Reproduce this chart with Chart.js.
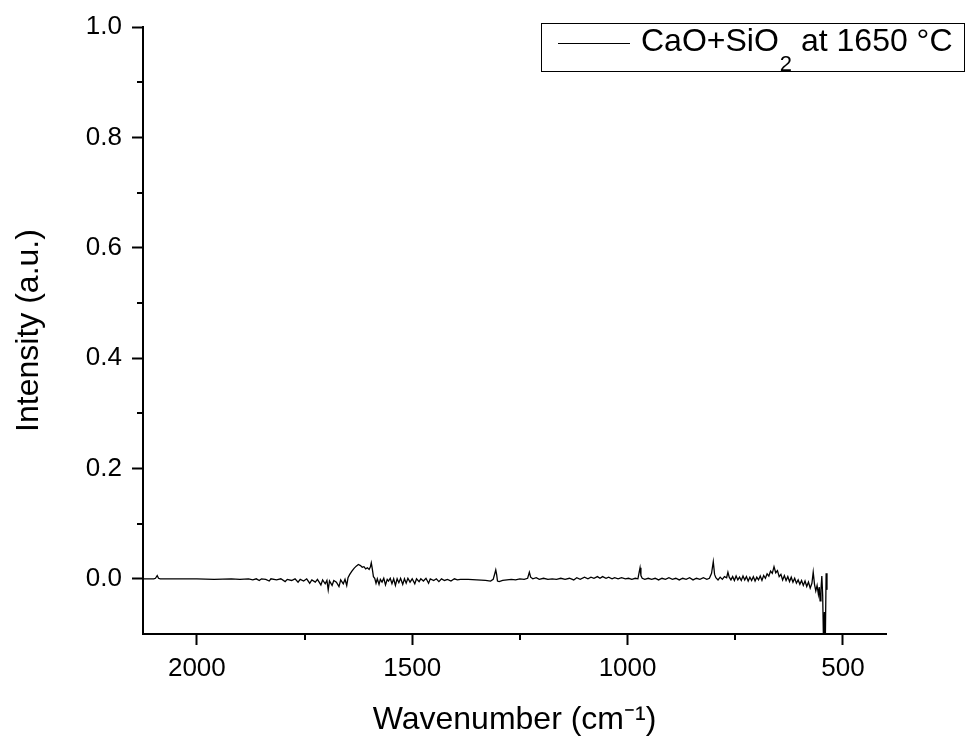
<!DOCTYPE html>
<html>
<head>
<meta charset="utf-8">
<script src="https://cdn.jsdelivr.net/npm/chart.js@4.4.1/dist/chart.umd.min.js"></script>
<style>
  html, body { margin: 0; padding: 0; background: #fff; }
  canvas { display: block; }
</style>
</head>
<body>
<canvas id="spectrum" width="966" height="740"></canvas>
<script>
// spectrum (wavenumber cm-1, intensity a.u.)
const wavenumbers = [
  2125, 2100, 2096, 2092, 2089, 2085, 2040, 2000, 1960, 1920, 1900, 1880, 1870, 1862,
  1855, 1850, 1840, 1832, 1828, 1815, 1805, 1795, 1790, 1780, 1772, 1765, 1760, 1752,
  1745, 1738, 1733, 1725, 1720, 1712, 1708, 1702, 1698, 1695, 1692, 1686, 1682, 1676,
  1670, 1666, 1660, 1656, 1652, 1649, 1645, 1640, 1635, 1630, 1625, 1620, 1616, 1612,
  1608, 1604, 1600, 1597, 1595, 1593, 1590, 1587, 1584, 1581, 1577, 1574, 1570, 1566,
  1562, 1558, 1555, 1551, 1547, 1543, 1539, 1535, 1531, 1527, 1522, 1518, 1514, 1510,
  1505, 1500, 1494, 1490, 1484, 1480, 1474, 1468, 1462, 1458, 1450, 1444, 1438, 1432,
  1425, 1418, 1410, 1402, 1395, 1388, 1370, 1350, 1330, 1318, 1312, 1308, 1306, 1304,
  1302, 1298, 1290, 1280, 1270, 1260, 1250, 1240, 1232, 1228, 1225, 1220, 1212, 1205,
  1195, 1185, 1175, 1165, 1155, 1145, 1135, 1125, 1118, 1110, 1100, 1092, 1085, 1078,
  1070, 1064, 1058, 1050, 1044, 1036, 1030, 1022, 1014, 1005, 998, 990, 982, 976,
  973, 971, 969, 966, 960, 952, 944, 936, 928, 920, 912, 904, 896, 888,
  880, 872, 864, 856, 848, 840, 832, 824, 816, 810, 805, 801, 798, 795,
  790, 785, 780, 775, 770, 767, 764, 760, 756, 752, 748, 744, 740, 736,
  732, 728, 724, 720, 716, 712, 708, 704, 700, 696, 692, 688, 684, 680,
  676, 672, 668, 664, 660, 656, 652, 648, 644, 640, 636, 632, 628, 624,
  620, 616, 612, 608, 604, 600, 596, 592, 588, 584, 580, 576, 572, 569,
  566, 563, 560, 557, 555, 553, 551, 549, 547, 545, 543, 541, 539, 537
];
const intensity = [
  0, 0, 0.001, 0.006, 0.001, 0, 0, 0, -0.001, 0, -0.001, 0, -0.002, 0,
  -0.003, 0, -0.001, -0.004, 0, -0.002, 0, -0.005, -0.001, -0.003, 0, -0.006, -0.001, -0.004,
  0, -0.008, -0.002, -0.006, -0.001, -0.011, -0.002, -0.009, -0.003, -0.02, -0.004, -0.012, -0.003, -0.006,
  -0.014, -0.002, -0.009, -0.001, -0.012, 0.002, 0.008, 0.014, 0.019, 0.023, 0.026, 0.024, 0.021, 0.022,
  0.018, 0.02, 0.017, 0.022, 0.029, 0.02, 0.004, 0.001, -0.008, 0, -0.01, -0.001, -0.006, 0.001,
  -0.011, -0.001, -0.004, 0.001, -0.009, 0, -0.012, 0, -0.007, 0.001, -0.01, 0, -0.008, 0.001,
  -0.006, 0, -0.009, 0, -0.005, 0, -0.004, 0.001, -0.008, 0, -0.003, 0, -0.005, 0,
  -0.003, -0.001, -0.004, 0, -0.002, -0.001, -0.001, -0.002, -0.003, -0.004, -0.001, 0.01, 0.016, 0.008,
  -0.004, -0.005, -0.003, -0.002, -0.001, -0.002, 0, -0.001, 0.001, 0.012, 0.003, 0, 0.002, -0.001,
  0.001, -0.001, 0, -0.001, 0.001, -0.001, 0.001, -0.002, 0.002, -0.001, 0.003, 0, 0.003, 0.001,
  0.004, 0.001, 0.004, 0.001, 0.003, 0, 0.002, 0, 0.002, 0, 0.001, -0.001, 0.001, 0,
  0.012, 0.02, 0.006, 0.001, -0.001, 0.001, -0.001, 0.001, -0.002, 0.001, -0.001, 0.002, -0.001, 0.001,
  -0.002, 0.001, -0.001, 0.002, -0.002, 0.001, -0.001, 0.002, -0.001, 0.001, 0.01, 0.031, 0.008, 0.002,
  -0.002, 0.003, -0.001, 0.004, 0.002, 0.012, 0.003, -0.002, 0.004, -0.003, 0.005, -0.002, 0.003, -0.003,
  0.005, -0.002, 0.004, -0.004, 0.003, -0.003, 0.004, -0.004, 0.003, -0.002, 0.005, -0.003, 0.006, 0.001,
  0.009, 0.005, 0.014, 0.01, 0.022, 0.011, 0.015, 0.004, 0.008, -0.002, 0.006, -0.003, 0.004, -0.005,
  0.003, -0.006, 0.001, -0.008, -0.002, -0.01, -0.003, -0.012, -0.004, -0.014, -0.006, -0.017, -0.008, 0.012,
  -0.01, -0.022, -0.012, -0.028, -0.015, -0.04, -0.02, 0.005, -0.03, -0.12, -0.06, -0.12, 0.01, -0.02
];
const xMajorTicks = [500, 1000, 1500, 2000];
const xMinorTicks = [750, 1250, 1750];
const yMajorTicks = [0, 0.2, 0.4, 0.6, 0.8, 1.0];
const yMinorTicks = [0.1, 0.3, 0.5, 0.7, 0.9];
const seriesName = ["CaO+SiO", "2", " at 1650 °C"];

const points = wavenumbers.map((w, i) => ({ x: w, y: intensity[i] }));
const fontFamily = "'Liberation Sans', Arial, sans-serif";

// short minor ticks and the boxed legend
const extras = {
  id: "extras",
  afterDraw(chart) {
    const ctx = chart.ctx;
    const area = chart.chartArea;
    const xs = chart.scales.x;
    const ys = chart.scales.y;
    ctx.save();
    ctx.strokeStyle = "#000";
    ctx.lineWidth = 2;
    ctx.beginPath();
    xMinorTicks.forEach((v) => {
      const px = Math.round(xs.getPixelForValue(v));
      ctx.moveTo(px, area.bottom);
      ctx.lineTo(px, area.bottom + 6);
    });
    yMinorTicks.forEach((v) => {
      const py = Math.round(ys.getPixelForValue(v));
      ctx.moveTo(area.left, py);
      ctx.lineTo(area.left - 6, py);
    });
    ctx.stroke();

    // legend
    ctx.lineWidth = 1;
    ctx.strokeRect(541.5, 23.5, 423, 48);
    ctx.beginPath();
    ctx.moveTo(558, 43.5);
    ctx.lineTo(630, 43.5);
    ctx.stroke();
    ctx.fillStyle = "#000";
    ctx.textBaseline = "alphabetic";
    ctx.textAlign = "left";
    let x = 641;
    ctx.font = "32px " + fontFamily;
    ctx.fillText(seriesName[0], x, 51);
    x += ctx.measureText(seriesName[0]).width;
    ctx.font = "22px " + fontFamily;
    ctx.fillText(seriesName[1], x + 1, 71);
    x += ctx.measureText(seriesName[1]).width + 1;
    ctx.font = "32px " + fontFamily;
    ctx.fillText(seriesName[2], x, 51);
    ctx.restore();
  }
};

const config = {
  type: "scatter",
  data: {
    datasets: [
      {
        label: seriesName.join(""),
        data: points,
        showLine: true,
        borderColor: "#000",
        borderWidth: 1.3,
        pointRadius: 0,
        tension: 0
      }
    ]
  },
  options: {
    responsive: false,
    animation: false,
    layout: { padding: { top: 27, right: 80, left: 0, bottom: 0 } },
    plugins: {
      legend: { display: false },
      tooltip: { enabled: false }
    },
    scales: {
      x: {
        type: "linear",
        reverse: true,
        min: 400,
        max: 2125,
        afterBuildTicks: (scale) => {
          scale.ticks = xMajorTicks.map((v) => ({ value: v }));
        },
        afterFit: (scale) => {
          scale.height = 106;
        },
        grid: {
          drawOnChartArea: false,
          drawTicks: true,
          tickLength: 11,
          tickWidth: 2,
          tickColor: "#000"
        },
        border: { display: true, color: "#000", width: 2 },
        ticks: {
          color: "#000",
          padding: 8,
          maxRotation: 0,
          font: { family: fontFamily, size: 26 },
          callback: (v) => String(v)
        },
        title: {
          display: true,
          text: "Wavenumber (cm⁻¹)",
          color: "#000",
          padding: { top: 0, bottom: 1 },
          font: { family: fontFamily, size: 32 }
        }
      },
      y: {
        type: "linear",
        min: -0.1,
        max: 1.0,
        afterBuildTicks: (scale) => {
          scale.ticks = yMajorTicks.map((v) => ({ value: v }));
        },
        afterFit: (scale) => {
          scale.width = 143;
        },
        grid: {
          drawOnChartArea: false,
          drawTicks: true,
          tickLength: 11,
          tickWidth: 2,
          tickColor: "#000"
        },
        border: { display: true, color: "#000", width: 2 },
        ticks: {
          color: "#000",
          padding: 10,
          font: { family: fontFamily, size: 26 },
          callback: (v) => Number(v).toFixed(1)
        },
        title: {
          display: true,
          text: "Intensity (a.u.)",
          color: "#000",
          padding: { top: 10, bottom: 0 },
          font: { family: fontFamily, size: 32 }
        }
      }
    }
  },
  plugins: [extras]
};

const chart = new Chart(document.getElementById("spectrum"), config);
</script>
</body>
</html>
